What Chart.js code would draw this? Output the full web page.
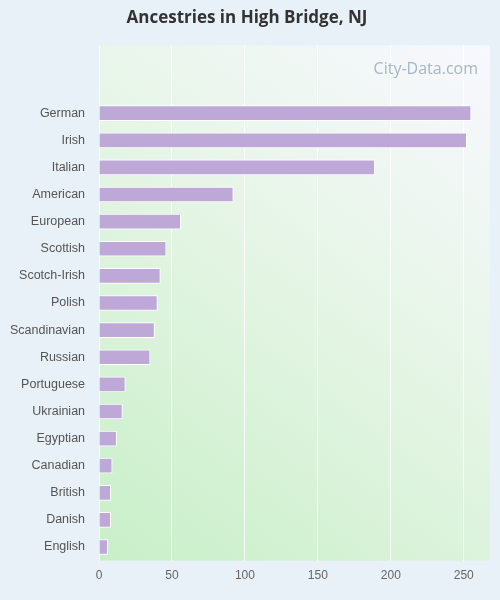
<!DOCTYPE html>
<html>
<head>
<meta charset="utf-8">
<script src="https://cdn.jsdelivr.net/npm/chart.js@4"></script>
<style>
  body { margin: 0; background: #e8f0f8; }
  #wrap { width: 500px; height: 600px; }
</style>
</head>
<body>
<div id="wrap"><canvas id="chart"></canvas></div>
<script>
const categories = ["", " ", "German", "Irish", "Italian", "American", "European", "Scottish", "Scotch-Irish", "Polish", "Scandinavian", "Russian", "Portuguese", "Ukrainian", "Egyptian", "Canadian", "British", "Danish", "English"];
const values = [null, null, 255, 252, 189, 92, 56, 46, 42, 40, 38, 35, 18, 16, 12, 9, 8, 8, 6];
const xTicks = [0, 50, 100, 150, 200, 250];

// gradient behind plot area + watermark
const bgPlugin = {
    id: "bg",
    beforeDraw(chart) {
        const { ctx, chartArea: a } = chart;
        const g = ctx.createLinearGradient(a.left, a.bottom, a.right, a.top);
        g.addColorStop(0, "#c8efc8");
        g.addColorStop(0.55, "#e6f5e6");
        g.addColorStop(1, "#f8f8ff");
        ctx.save();
        ctx.fillStyle = g;
        ctx.fillRect(a.left, a.top, a.right - a.left, a.bottom - a.top);
        ctx.restore();
    },
    afterDraw(chart) {
        const ctx = chart.ctx;
        ctx.save();
        ctx.font = "16px 'Open Sans', sans-serif";
        ctx.fillStyle = "rgba(150,165,180,0.8)";
        ctx.textAlign = "right";
        ctx.fillText("City-Data.com", 478, 74);
        ctx.restore();
    }
};

new Chart(document.getElementById("chart"), {
    type: "bar",
    data: {
        labels: categories,
        datasets: [{
            data: values,
            backgroundColor: "#bea8d8",
            borderColor: "#ffffff",
            borderWidth: 1,
            barThickness: 15
        }]
    },
    options: {
        indexAxis: "y",
        animation: false,
        responsive: true,
        maintainAspectRatio: false,
        layout: { padding: { top: 0, right: 10, bottom: 9, left: 4 } },
        plugins: {
            legend: { display: false },
            tooltip: { enabled: false },
            title: {
                display: true,
                text: "Ancestries in High Bridge, NJ",
                color: "#333333",
                font: { size: 17, weight: "bold", family: "'Open Sans', sans-serif" },
                padding: { top: 8, bottom: 17 }
            }
        },
        scales: {
            x: {
                min: 0,
                max: 268,
                afterBuildTicks(axis) { axis.ticks = xTicks.map(v => ({ value: v })); },
                grid: { color: "rgba(255,255,255,0.8)", drawTicks: false },
                border: { display: false },
                ticks: { color: "#666666", font: { size: 12 }, padding: 8 }
            },
            y: {
                grid: { display: false },
                border: { display: false },
                ticks: { color: "#555555", font: { size: 12.5 }, padding: 6 }
            }
        }
    },
    plugins: [bgPlugin]
});
</script>
</body>
</html>
